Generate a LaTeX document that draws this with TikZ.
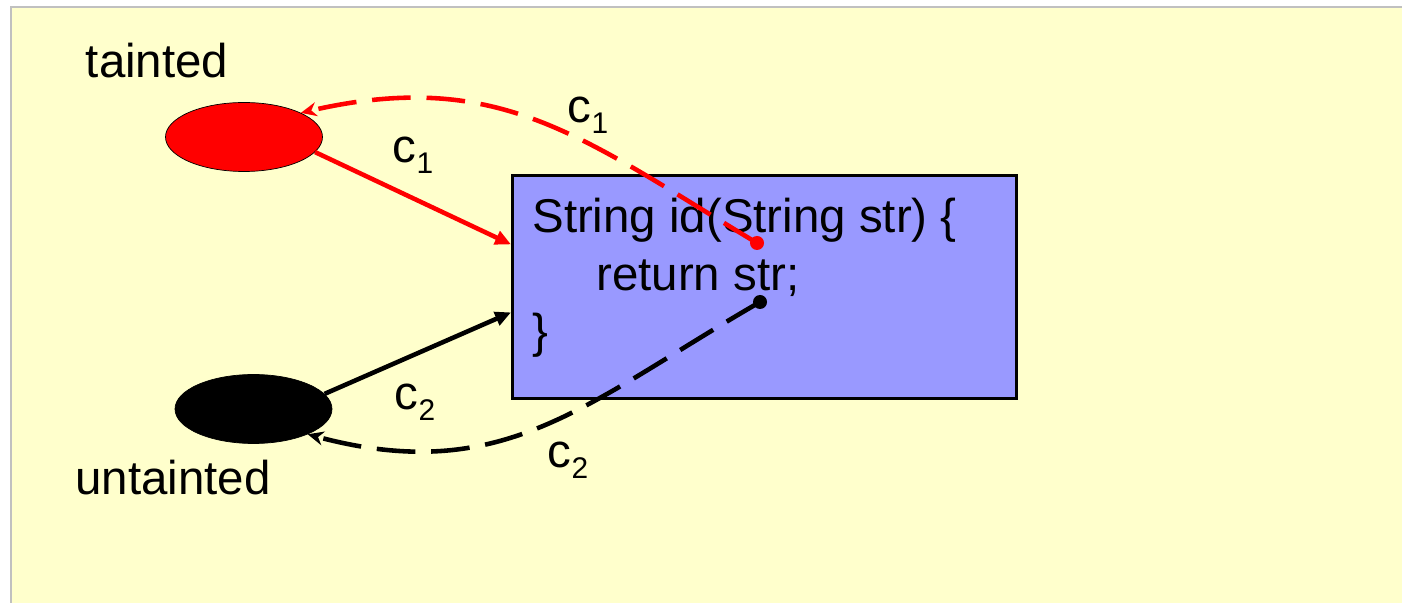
\documentclass[tikz,border=0pt]{standalone}
\usepackage{fontspec}
\setmainfont{Liberation Sans}
\usetikzlibrary{arrows.meta,shapes.geometric,positioning}
\definecolor{slidebg}{HTML}{FFFFCC}
\definecolor{boxblue}{HTML}{9999FF}
\definecolor{framegray}{HTML}{C0C0C0}
\newcommand{\lowsub}[1]{\raisebox{-6pt}{\fontsize{17}{17}\selectfont #1}}

\begin{document}
\begin{tikzpicture}[every node/.style={font=\fontsize{27}{33}\selectfont, inner sep=0pt}, >={Triangle[length=9pt,width=8pt]},
	flow/.style={line width=2.6pt, ->},
	back/.style={line width=2.6pt, dash pattern=on 22pt off 9pt, -{Stealth[length=9pt,width=8pt]}},
	taint/.style={ellipse, draw=black, thin, minimum width=3.14cm, minimum height=1.38cm}]
	\useasboundingbox (0,0) rectangle (28.04,12.04);
	\draw[framegray, line width=1.2pt, fill=slidebg] (0.22,-1) -- (0.22,11.9) -- (29,11.9) -- (29,-1) -- cycle;
	% the two values
	\node[anchor=base west] (taintlbl) at (1.71,10.48) {tainted};
	\node[taint, fill=red] (hot) at (4.88,9.30) {};
	\node[taint, fill=black] (cold) at (5.07,3.86) {};
	\node[anchor=base west] (untaintlbl) at (1.50,2.14) {untainted};
	% the method
	\node[draw, line width=1.6pt, fill=boxblue, minimum width=10.08cm, minimum height=4.46cm, anchor=north west] (func) at (10.22,8.56) {};
	\node[anchor=base west, align=left] (code) at (10.64,5.08) {String id(String str) \{\\\hspace*{1.35em}return str;\\\}};
	\coordinate (param) at ([shift={(4.92,-1.38)}]func.north west);
	\coordinate (ret) at ([shift={(4.98,-2.56)}]func.north west);
	% calls and returns
	\draw[flow, red] (hot.-12) -- ([yshift=0.85cm]func.west);
	\draw[flow] (cold.12) -- ([yshift=-0.51cm]func.west);
	\draw[back, red] (param) to[out=149, in=13, looseness=1.1] (hot.23);
	\draw[back] (ret) to[out=210, in=-15, looseness=1.1] (cold.-25);
	\fill[red] (param) circle (0.14);
	\fill (ret) circle (0.14);
	\node (lblhot) at (8.26,8.94) {c\lowsub{1}};
	\node (lblback) at (11.76,9.74) {c\lowsub{1}};
	\node (lblcold) at (8.30,4.00) {c\lowsub{2}};
	\node (lblret) at (11.36,2.84) {c\lowsub{2}};
\end{tikzpicture}
\end{document}
